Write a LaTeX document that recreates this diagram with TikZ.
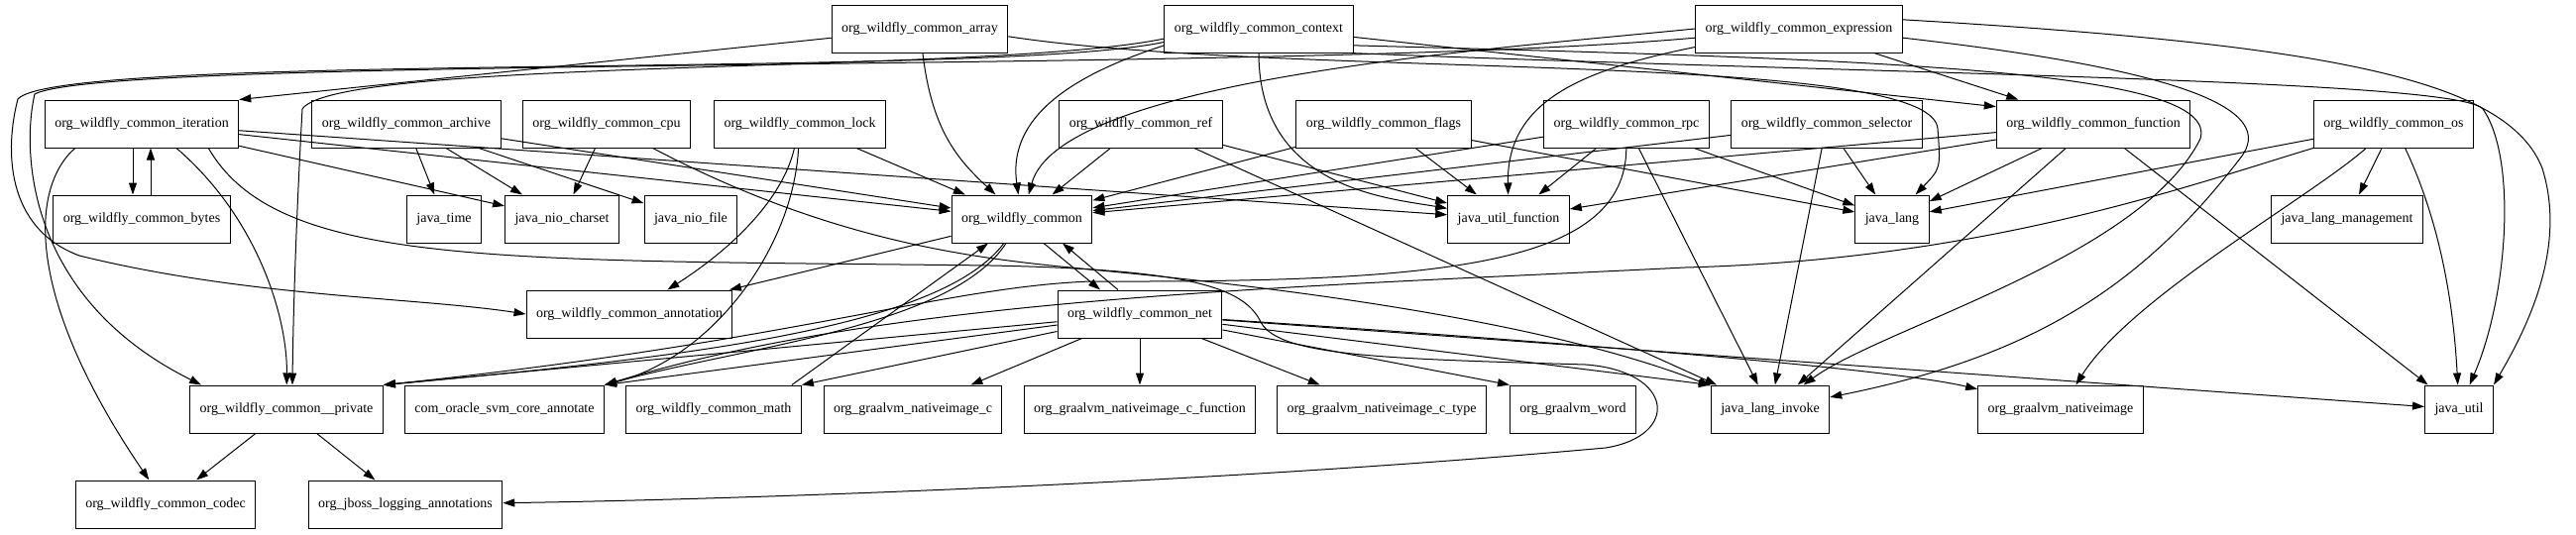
\documentclass[tikz,border=0pt]{standalone}
\usepackage{fontspec}
\setmainfont{Liberation Serif}
\usetikzlibrary{arrows.meta}

\begin{document}
\begin{tikzpicture}[
  x=1pt, y=-1pt,
  box/.style={draw, line width=1pt, minimum height=48pt, inner xsep=10pt, font=\fontsize{14}{16}\selectfont},
  dep/.style={-{Triangle[length=12pt, width=8pt]}, line width=1pt}
]
  \useasboundingbox (0,0) rectangle (2599,539);
  \node[box] (ary) at (928,29) {org\_wildfly\_common\_array};
  \node[box] (ctx) at (1270,29) {org\_wildfly\_common\_context};
  \node[box] (expr) at (1815,29) {org\_wildfly\_common\_expression};
  \node[box] (iter) at (143,125) {org\_wildfly\_common\_iteration};
  \node[box] (arch) at (410,125) {org\_wildfly\_common\_archive};
  \node[box] (cpu) at (612,125) {org\_wildfly\_common\_cpu};
  \node[box] (lock) at (807,125) {org\_wildfly\_common\_lock};
  \node[box] (ref) at (1151,125) {org\_wildfly\_common\_ref};
  \node[box] (flags) at (1396,125) {org\_wildfly\_common\_flags};
  \node[box] (rpc) at (1641,125) {org\_wildfly\_common\_rpc};
  \node[box] (sel) at (1843,125) {org\_wildfly\_common\_selector};
  \node[box] (func) at (2112,125) {org\_wildfly\_common\_function};
  \node[box] (os) at (2415,125) {org\_wildfly\_common\_os};
  \node[box] (bytes) at (143,221) {org\_wildfly\_common\_bytes};
  \node[box] (jtime) at (448,221) {java\_time};
  \node[box] (jcharset) at (567,221) {java\_nio\_charset};
  \node[box] (jfile) at (697,221) {java\_nio\_file};
  \node[box] (wfc) at (1031,221) {org\_wildfly\_common};
  \node[box] (jufunc) at (1522,221) {java\_util\_function};
  \node[box] (jlang) at (1909,221) {java\_lang};
  \node[box] (jmgmt) at (2368,221) {java\_lang\_management};
  \node[box] (annot) at (635,317) {org\_wildfly\_common\_annotation};
  \node[box] (net) at (1150,317) {org\_wildfly\_common\_net};
  \node[box] (priv) at (289,413) {org\_wildfly\_common\_\_private};
  \node[box] (svm) at (509,413) {com\_oracle\_svm\_core\_annotate};
  \node[box] (math) at (720,413) {org\_wildfly\_common\_math};
  \node[box] (nic) at (921,413) {org\_graalvm\_nativeimage\_c};
  \node[box] (nicfunc) at (1150,413) {org\_graalvm\_nativeimage\_c\_function};
  \node[box] (nictype) at (1394,413) {org\_graalvm\_nativeimage\_c\_type};
  \node[box] (word) at (1587,413) {org\_graalvm\_word};
  \node[box] (jinvoke) at (1786,413) {java\_lang\_invoke};
  \node[box] (nimg) at (2079,413) {org\_graalvm\_nativeimage};
  \node[box] (jutil) at (2481,413) {java\_util};
  \node[box] (codec) at (167,509) {org\_wildfly\_common\_codec};
  \node[box] (jboss) at (409,509) {org\_jboss\_logging\_annotations};

  \draw[dep] (ary) -- (iter.north east);
  \draw[dep] (ary) .. controls (940,130) and (965,160) .. (wfc);
  \draw[dep] (ary.-5) .. controls (1300,80) and (1950,50) .. (1955,130) .. controls (1958,170) .. (jlang);

  \draw[dep] (ctx.190) .. controls (1100,70) and (1015,110) .. (wfc);
  \draw[dep] (ctx.186) .. controls (1000,75) and (340,58) .. (305,110) .. controls (300,200) and (296,300) .. ([xshift=6pt]priv.north);
  \draw[dep] (ctx.188) .. controls (1000,80) and (60,52) .. (18,100) .. controls (5,150) and (5,230) .. (80,258) .. controls (250,300) and (420,300) .. (annot.west);
  \draw[dep] (ctx.-5) -- (func.170);
  \draw[dep] (ctx) .. controls (1270,190) and (1400,200) .. (jufunc);
  \draw[dep] (ctx.-10) .. controls (1900,60) and (2240,70) .. (2220,140) .. controls (2160,260) and (1900,330) .. (jinvoke);
  \draw[dep] (ctx.-15) .. controls (1900,75) and (2480,80) .. (2505,110) .. controls (2540,160) and (2530,300) .. (jutil);

  \draw[dep] (expr.west) .. controls (1500,50) and (1070,80) .. (wfc);
  \draw[dep] (expr.185) .. controls (1300,75) and (110,55) .. (35,95) .. controls (22,150) and (25,300) .. ([xshift=12pt]priv.north west);
  \draw[dep] (expr) -- (func);
  \draw[dep] (expr.190) .. controls (1600,70) and (1520,100) .. (jufunc);
  \draw[dep] (expr.5) .. controls (2350,45) and (2530,80) .. (2565,170) .. controls (2590,250) and (2550,330) .. (jutil.north east);
  \draw[dep] (expr.-5) .. controls (2200,70) and (2300,110) .. (2260,160) .. controls (2160,290) and (2050,360) .. (jinvoke);

  \draw[dep] ([xshift=-9pt]iter.south) -- ([xshift=-9pt]bytes.north);
  \draw[dep] ([xshift=9pt]bytes.north) -- ([xshift=9pt]iter.south);
  \draw[dep] (iter.-160) .. controls (30,190) and (25,300) .. (codec);
  \draw[dep] (iter.-35) .. controls (260,220) and (290,320) .. (priv);
  \draw[dep] (iter) -- (jcharset);
  \draw[dep] (iter) -- (wfc);
  \draw[dep] (iter) -- (jufunc);
  \draw[dep] (iter.-20) .. controls (280,270) and (500,262) .. (1000,268) .. controls (1200,272) and (1255,290) .. (1272,325) .. controls (1290,360) and (1400,362) .. (1600,368) .. controls (1690,375) and (1695,440) .. (1620,452) .. controls (1200,490) and (700,505) .. (jboss);

  \draw[dep] (arch) -- (jtime);
  \draw[dep] (arch) -- (jcharset);
  \draw[dep] (arch) -- (jfile);
  \draw[dep] (arch) -- (wfc);
  \draw[dep] (cpu) -- (jcharset);
  \draw[dep] (cpu) .. controls (850,250) and (1000,262) .. (1100,272) .. controls (1400,300) and (1600,340) .. (jinvoke);
  \draw[dep] (lock) -- (wfc);
  \draw[dep] (lock) .. controls (790,200) and (740,250) .. (annot);
  \draw[dep] (lock) .. controls (800,250) and (720,360) .. (svm.north east);
  \draw[dep] (ref) -- (wfc);
  \draw[dep] (ref) -- (jufunc);
  \draw[dep] (ref) -- (jinvoke);
  \draw[dep] (flags) -- (wfc);
  \draw[dep] (flags) -- (jufunc);
  \draw[dep] (flags) -- (jlang);
  \draw[dep] (rpc) -- (wfc);
  \draw[dep] (rpc) -- (jufunc);
  \draw[dep] (rpc) -- (jlang);
  \draw[dep] (rpc) -- (jinvoke);
  \draw[dep] (rpc) .. controls (1640,270) and (1450,285) .. (1100,284) .. controls (950,290) and (800,345) .. (priv.north east);
  \draw[dep] (sel) -- (wfc);
  \draw[dep] (sel) -- (jlang);
  \draw[dep] (sel) -- (jinvoke);
  \draw[dep] (func) -- (wfc);
  \draw[dep] (func) -- (jufunc);
  \draw[dep] (func) -- (jlang);
  \draw[dep] (func) -- (jinvoke);
  \draw[dep] (func) -- (jutil);
  \draw[dep] (os) -- (jlang);
  \draw[dep] (os) -- (jmgmt);
  \draw[dep] (os) .. controls (2460,220) and (2475,300) .. (jutil);
  \draw[dep] (os) .. controls (2330,200) and (2150,300) .. (nimg);
  \draw[dep] (os) .. controls (2200,190) and (2000,262) .. (1700,270) .. controls (1300,290) and (900,300) .. (svm.north east);

  \draw[dep] ([xshift=22pt]wfc.south) -- ([xshift=-40pt]net.north);
  \draw[dep] ([xshift=-22pt]net.north) -- ([xshift=41pt]wfc.south);
  \draw[dep] (wfc) -- (annot);
  \draw[dep] (wfc) .. controls (950,330) and (700,360) .. (priv.north east);
  \draw[dep] (wfc) .. controls (960,330) and (750,350) .. (svm.north east);
  \draw[dep] ([xshift=-10pt]math.north east) -- (wfc);
  \draw[dep] (net) -- (priv.north east);
  \draw[dep] (net) -- (svm.north east);
  \draw[dep] (net) -- (math.north east);
  \draw[dep] (net) -- (nic);
  \draw[dep] (net) -- (nicfunc);
  \draw[dep] (net) -- (nictype);
  \draw[dep] (net) -- (word.north west);
  \draw[dep] (net) -- (jinvoke.north west);
  \draw[dep] (net) .. controls (1500,340) and (1900,370) .. (nimg);
  \draw[dep] (net) -- (jutil);
  \draw[dep] (priv) -- (codec);
  \draw[dep] (priv) -- (jboss);
\end{tikzpicture}
\end{document}
